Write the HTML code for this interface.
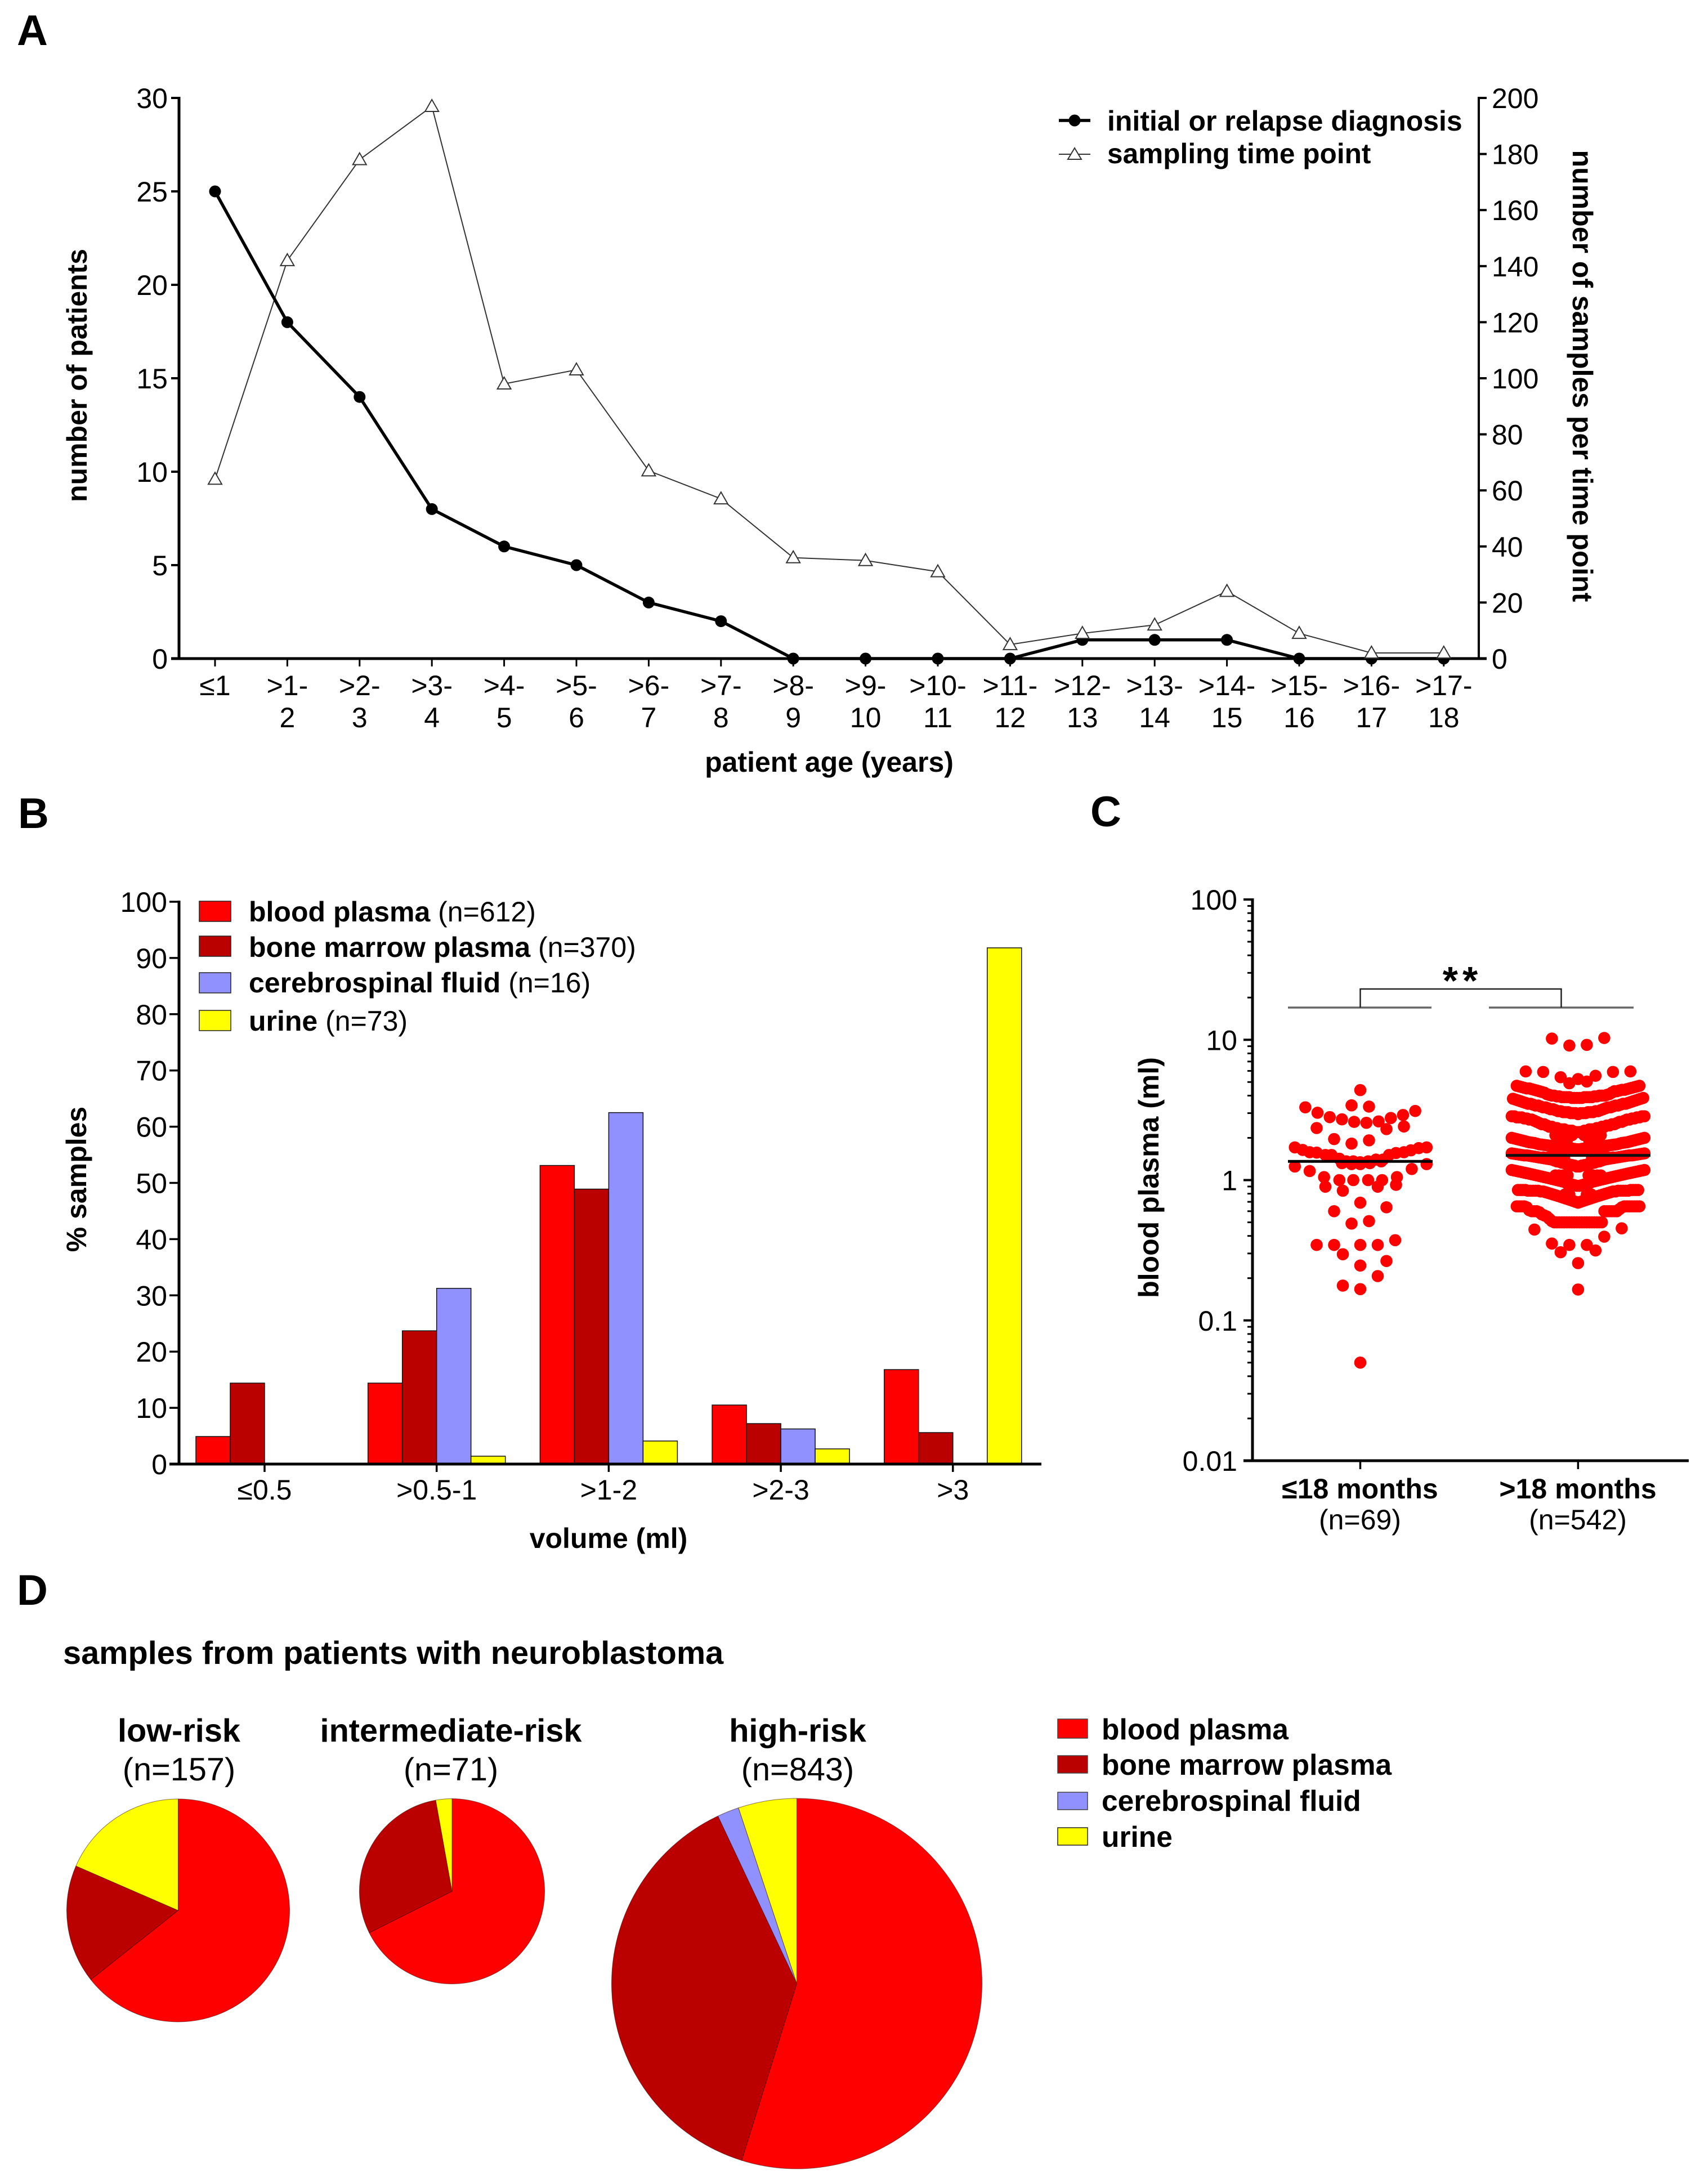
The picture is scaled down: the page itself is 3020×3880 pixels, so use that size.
<!DOCTYPE html>
<html lang="en">
<head>
<meta charset="utf-8">
<title>Sample volumes figure</title>
<style>
html,body{margin:0;padding:0;background:#fff}
svg{display:block}
text{font-family:"Liberation Sans",Arial,sans-serif;fill:#000}
.b{font-weight:700}
.t50{font-size:50px}
.t57{font-size:57.7px}
.letter{font-size:76px;font-weight:700}
</style>
</head>
<body>
<svg id="figure" xmlns="http://www.w3.org/2000/svg" width="3020" height="3880" viewBox="0 0 3020 3880">
<rect x="0" y="0" width="3020" height="3880" fill="#fff"/>

<g id="panelA">
  <text class="letter" x="30" y="80">A</text>
  <text class="b t50" text-anchor="middle" transform="translate(154,667) rotate(-90)">number of patients</text>
  <text class="b t50" text-anchor="middle" transform="translate(2794,668) rotate(90)">number of samples per time point</text>
  <text class="b t50" text-anchor="middle" x="1473" y="1371">patient age (years)</text>
  <line x1="1881" x2="1937" y1="214" y2="214" stroke="#000" stroke-width="5.5"/>
  <circle cx="1909" cy="214" r="10.5" fill="#000"/>
  <text class="b t50" x="1967" y="232">initial or relapse diagnosis</text>
  <line x1="1881" x2="1937" y1="274" y2="274" stroke="#333" stroke-width="2"/>
  <path d="M1909 263L1921 283L1897 283Z" fill="#fff" stroke="#333" stroke-width="2"/>
  <text class="b t50" style="font-size:49.6px" x="1967" y="290">sampling time point</text>
</g>

<g id="panelB">
  <text class="letter" x="32" y="1471">B</text>
  <text class="b t50" text-anchor="middle" transform="translate(153,2095) rotate(-90)">% samples</text>
  <text class="b t50" text-anchor="middle" x="1081" y="2750">volume (ml)</text>
  <rect x="354" y="1601" width="56" height="36" fill="#ff0000" stroke="#222" stroke-width="1.5"/>
  <text class="t50" x="442" y="1637"><tspan class="b">blood plasma</tspan> (n=612)</text>
  <rect x="354" y="1663" width="56" height="36" fill="#bb0000" stroke="#222" stroke-width="1.5"/>
  <text class="t50" x="442" y="1700"><tspan class="b">bone marrow plasma</tspan> (n=370)</text>
  <rect x="354" y="1728" width="56" height="36" fill="#9090ff" stroke="#222" stroke-width="1.5"/>
  <text class="t50" x="442" y="1763"><tspan class="b">cerebrospinal fluid</tspan> (n=16)</text>
  <rect x="354" y="1795" width="56" height="36" fill="#ffff00" stroke="#222" stroke-width="1.5"/>
  <text class="t50" x="442" y="1831"><tspan class="b">urine</tspan> (n=73)</text>
</g>

<g id="panelC">
  <text class="letter" x="1937" y="1468">C</text>
  <text class="b t50" text-anchor="middle" transform="translate(2058,2092) rotate(-90)">blood plasma (ml)</text>
  <text class="b t50" text-anchor="middle" x="2416" y="2662">≤18 months</text>
  <text class="t50" text-anchor="middle" x="2416" y="2717">(n=69)</text>
  <text class="b t50" text-anchor="middle" x="2803" y="2662">&gt;18 months</text>
  <text class="t50" text-anchor="middle" x="2803" y="2717">(n=542)</text>
</g>

<g id="panelD">
  <text class="letter" x="30" y="2851">D</text>
  <text class="b t57" x="112" y="2956">samples from patients with neuroblastoma</text>
  <text class="b t57" text-anchor="middle" x="318" y="3094">low-risk</text>
  <text class="t57" text-anchor="middle" x="318" y="3163">(n=157)</text>
  <text class="b t57" text-anchor="middle" x="801" y="3094">intermediate-risk</text>
  <text class="t57" text-anchor="middle" x="801" y="3163">(n=71)</text>
  <text class="b t57" text-anchor="middle" x="1417" y="3094">high-risk</text>
  <text class="t57" text-anchor="middle" x="1417" y="3163">(n=843)</text>
  <rect x="1879" y="3054" width="53" height="34" fill="#ff0000" stroke="#444" stroke-width="1.5"/>
  <text class="b" style="font-size:51.5px" x="1957" y="3090">blood plasma</text>
  <rect x="1879" y="3119" width="53" height="31" fill="#bb0000" stroke="#444" stroke-width="1.5"/>
  <text class="b" style="font-size:51.5px" x="1957" y="3153">bone marrow plasma</text>
  <rect x="1879" y="3184" width="53" height="31" fill="#9090ff" stroke="#444" stroke-width="1.5"/>
  <text class="b" style="font-size:51.5px" x="1957" y="3217">cerebrospinal fluid</text>
  <rect x="1879" y="3247" width="53" height="31" fill="#ffff00" stroke="#222" stroke-width="1.5"/>
  <text class="b" style="font-size:51.5px" x="1957" y="3281">urine</text>
</g>
</svg>

<script>
/* ---------- Panel A data ---------- */
const ageLabelsTop = ['≤1','>1-','>2-','>3-','>4-','>5-','>6-','>7-','>8-','>9-','>10-','>11-','>12-','>13-','>14-','>15-','>16-','>17-'];
const ageLabelsBottom = ['','2','3','4','5','6','7','8','9','10','11','12','13','14','15','16','17','18'];
const patientCounts = [25,18,14,8,6,5,3,2,0,0,0,0,1,1,1,0,0,0];
const sampleCounts = [64,142,178,197,98,103,67,57,36,35,31,5,9,12,24,9,2,2];
const patientTicks = [0,5,10,15,20,25,30];
const sampleTicks = [0,20,40,60,80,100,120,140,160,180,200];

/* ---------- Panel B data ---------- */
const volumeCategories = ['≤0.5','>0.5-1','>1-2','>2-3','>3'];
const bloodPercent = [4.9,14.4,53.1,10.5,16.8];
const marrowPercent = [14.4,23.7,48.9,7.2,5.6];
const csfPercent = [0,31.25,62.5,6.25,0];
const urinePercent = [0,1.4,4.1,2.7,91.8];
const percentTicks = [0,10,20,30,40,50,60,70,80,90,100];

/* ---------- Panel C data ---------- */
const volumeDecades = [100,10,1,0.1,0.01];
const volumeDecadeLabels = ['100','10','1','0.1','0.01'];
const youngMedian = 1.36;
const oldMedian = 1.5;
const youngValues = [4.38,3.41,3.34,3.3,3.02,2.81,2.71,2.6,2.56,2.62,2.77,2.91,3.11,2.35,2.31,2.41,1.96,1.82,1.92,
 1.71,1.64,1.58,1.57,1.51,1.51,1.42,1.36,1.36,1.34,1.36,1.4,1.4,1.51,1.56,1.58,1.63,1.69,1.71,
 1.32,1.3,1.3,1.32,1.36,1.25,1.16,1.2,1.3,1.05,1,1,1,1,1.05,0.897,0.84,0.897,0.925,
 0.69,0.6,0.64,0.49,0.51,0.345,0.345,0.345,0.345,0.373,0.296,0.246,0.265,0.207,0.177,0.167,0.05];
const youngSwarmSlots = [0,-1,1,-6.3,-4.9,-3.5,-2.1,-0.7,0.7,2.1,3.5,4.9,6.3,-5,3,5,-3,-1,1,
 -7.5,-6.6,-5.8,-5,-4,-3.3,-2.4,-1.6,-0.8,0,0.9,1.8,2.6,3.3,4.1,5,5.8,6.7,7.6,
 -2.1,-1,0,1.1,2.4,-7.5,-5.8,5.9,7.6,-4.15,-2.4,-0.8,0.9,2.5,4.2,-4,-2,2,4.1,
 0,-3,3,-1,1,-5,-3,0,2,4,-2,0,3,2,-2,0,0];
const oldSparseValues = [10.2,9.1,9.2,10.3,5.95,5.9,5.41,4.9,5.25,5.04,5.54,5.9,5.95,0.444,0.453,0.395,0.353,0.306,0.345,0.345,0.315,0.256,0.166,
 2.09,2.09,2.09,2.09,2.09,2.09,2.09,2.09,1.9,1.9,1.9,1.9,1.9,1.9,
 1.45,1.45,1.45,1.45,1.45,1.45,1.45,1.45,1.45,1.45,
 1.08,1.08,1.08,1.08,1.08,1.08,1.08,1.08,0.79,0.79,0.79,0.79];
const oldSparseSlots = [-3,-1,1,3,-6,-4,-2,-1,0,1,2,4,6,-5,5,3,-3,-2,-1,1,2,0,0,
 -2.6,-2.1,-1.4,-0.7,0.7,1.4,2.1,2.6,-2.4,-1.9,-1.3,1.3,1.9,2.4,
 -4,-3.4,-2.8,-2.2,-1.6,1.6,2.2,2.8,3.4,4,
 -2.6,-2.2,-1.7,-1.2,1.2,1.7,2.2,2.6,-1.5,-1,1,1.5];
const oldRow1 = [4.7,4.65,4.6,4.55,4.5,4.5,4.45,4.4,4.35,4.3,4.25,4.2,4.1,4.05,4,4,3.95,3.95,3.9,3.9,3.9,3.9,3.85,3.85,3.85,3.85,3.85,3.9,3.9,3.9,3.9,3.95,3.95,4,4,4,4.05,4.1,4.2,4.3,4.3,4.35,4.4,4.4,4.45,4.5,4.55,4.6,4.65,4.7];
const oldRow2 = [3.8,3.75,3.7,3.65,3.6,3.55,3.5,3.5,3.45,3.4,3.4,3.35,3.3,3.3,3.25,3.2,3.2,3.15,3.1,3.1,3.05,3.05,3.05,3,3,3,2.95,3,3,3,3.05,3.05,3.05,3.1,3.1,3.15,3.2,3.25,3.3,3.3,3.35,3.4,3.4,3.45,3.5,3.5,3.55,3.6,3.65,3.7,3.75,3.8,3.85];
const oldRow3 = [2.85,2.85,2.8,2.8,2.8,2.75,2.75,2.7,2.7,2.65,2.6,2.55,2.5,2.5,2.45,2.4,2.4,2.35,2.35,2.3,2.3,2.3,2.25,2.25,2.25,2.2,2.2,2.2,2.2,2.25,2.25,2.3,2.3,2.3,2.35,2.35,2.4,2.4,2.45,2.45,2.5,2.5,2.55,2.6,2.6,2.65,2.7,2.7,2.75,2.75,2.8,2.8,2.85,2.85];
const oldRow4 = [2,1.98,1.96,1.94,1.92,1.9,1.88,1.86,1.85,1.84,1.82,1.8,1.79,1.78,1.77,1.76,1.75,1.74,1.73,1.72,1.71,1.7,1.7,1.69,1.68,1.67,1.66,1.66,1.67,1.68,1.69,1.7,1.7,1.71,1.72,1.73,1.74,1.75,1.76,1.77,1.78,1.79,1.8,1.82,1.84,1.85,1.86,1.88,1.9,1.92,1.94,1.96,1.98,2];
const oldRow5 = [1.55,1.54,1.53,1.52,1.51,1.5,1.5,1.49,1.48,1.47,1.46,1.45,1.44,1.43,1.42,1.41,1.4,1.38,1.36,1.35,1.33,1.32,1.3,1.29,1.28,1.27,1.25,1.25,1.27,1.28,1.29,1.3,1.32,1.33,1.35,1.36,1.38,1.4,1.41,1.42,1.43,1.44,1.45,1.46,1.47,1.48,1.49,1.5,1.5,1.51,1.52,1.53,1.54,1.55];
const oldRow6 = [1.18,1.17,1.16,1.15,1.14,1.13,1.12,1.11,1.1,1.09,1.08,1.07,1.06,1.05,1.04,1.03,1.02,1.01,1,0.99,0.98,0.97,0.95,0.94,0.93,0.92,0.91,0.91,0.92,0.93,0.94,0.95,0.97,0.98,0.99,1,1.01,1.02,1.03,1.04,1.05,1.06,1.07,1.08,1.09,1.1,1.11,1.12,1.13,1.14,1.15,1.16,1.17,1.18];
const oldRow7 = [0.85,0.85,0.85,0.85,0.84,0.84,0.84,0.84,0.84,0.83,0.83,0.82,0.81,0.8,0.79,0.78,0.77,0.76,0.75,0.74,0.73,0.72,0.71,0.7,0.69,0.7,0.71,0.72,0.73,0.74,0.75,0.76,0.77,0.78,0.79,0.8,0.81,0.82,0.83,0.83,0.84,0.84,0.84,0.84,0.84,0.85,0.85,0.85,0.85];
const oldRow8 = [0.65,0.65,0.65,0.65,0.64,0.61,0.6,0.6,0.6,0.59,0.57,0.56,0.55,0.53,0.51,0.5,0.5,0.5,0.5,0.5,0.5,0.5,0.5,0.5,0.5,0.5,0.5,0.5,0.5,0.5,0.5,0.5,0.5,0.5,0.5,0.6,0.6,0.6,0.6,0.6,0.6,0.62,0.64,0.65,0.65,0.65,0.65,0.65,0.65,0.65];
const oldRows = [oldRow1,oldRow2,oldRow3,oldRow4,oldRow5,oldRow6,oldRow7,oldRow8];

/* ---------- Panel D data ---------- */
const lowRiskCounts = [101,27,0,29];
const intermediateRiskCounts = [48,21,0,2];
const highRiskCounts = [462,322,16,43];
const sampleTypeNames = ['blood-plasma','bone-marrow-plasma','cerebrospinal-fluid','urine'];

/* ---------- helpers ---------- */
const NS = 'http://www.w3.org/2000/svg';
function add(parent, tag, attrs, name) {
  const el = document.createElementNS(NS, tag);
  for (const k in attrs) el.setAttribute(k, attrs[k]);
  
  
  parent.appendChild(el);
  return el;
}
function label(parent, x, y, str, anchor, cls, name) {
  const el = add(parent, 'text', {x: x, y: y, 'text-anchor': anchor, 'class': cls}, name);
  el.textContent = str;
  return el;
}
const AXIS = 5, TEXT = 't50';

/* ---------- Panel A ---------- */
(function () {
  const g = document.getElementById('panelA');
  const xA = i => 382 + i * 128.4;
  const yLeft = v => 1170 - v * (996 / 30);
  const yRight = v => 1170 - v * (996 / 200);
  add(g, 'line', {x1: 318, x2: 318, y1: yLeft(30) - 2, y2: 1172, stroke: '#000', 'stroke-width': AXIS}, 'left-y-axis');
  add(g, 'line', {x1: 2627, x2: 2627, y1: yRight(200) - 2, y2: 1172, stroke: '#000', 'stroke-width': AXIS - 1}, 'right-y-axis');
  add(g, 'line', {x1: 304, x2: 2641, y1: 1170, y2: 1170, stroke: '#000', 'stroke-width': AXIS}, 'x-axis');
  patientTicks.forEach(v => {
    add(g, 'line', {x1: 304, x2: 318, y1: yLeft(v), y2: yLeft(v), stroke: '#000', 'stroke-width': 4}, 'left-y-tick');
    label(g, 298, yLeft(v) + 18, String(v), 'end', TEXT, 'left-y-tick-label');
  });
  sampleTicks.forEach(v => {
    add(g, 'line', {x1: 2627, x2: 2641, y1: yRight(v), y2: yRight(v), stroke: '#000', 'stroke-width': 4}, 'right-y-tick');
    label(g, 2650, yRight(v) + 18, String(v), 'start', TEXT, 'right-y-tick-label');
  });
  ageLabelsTop.forEach((t, i) => {
    add(g, 'line', {x1: xA(i), x2: xA(i), y1: 1170, y2: 1184, stroke: '#000', 'stroke-width': 3}, 'x-tick');
    label(g, xA(i), 1235, t, 'middle', TEXT, 'x-tick-label');
    if (ageLabelsBottom[i]) label(g, xA(i), 1292, ageLabelsBottom[i], 'middle', TEXT, 'x-tick-label');
  });
  add(g, 'polyline', {points: sampleCounts.map((v, i) => xA(i) + ',' + yRight(v)).join(' '), fill: 'none', stroke: '#333', 'stroke-width': 2}, 'sampling-line');
  add(g, 'polyline', {points: patientCounts.map((v, i) => xA(i) + ',' + yLeft(v)).join(' '), fill: 'none', stroke: '#000', 'stroke-width': 5.5}, 'diagnosis-line');
  patientCounts.forEach((v, i) => {
    add(g, 'circle', {cx: xA(i), cy: yLeft(v), r: 10.5, fill: '#000'}, 'diagnosis-point');
  });
  sampleCounts.forEach((v, i) => {
    const x = xA(i), y = yRight(v);
    add(g, 'path', {d: `M${x} ${y - 12}L${x + 12} ${y + 9}L${x - 12} ${y + 9}Z`, fill: '#fff', stroke: '#333', 'stroke-width': 2}, 'sampling-point');
  });
})();

/* ---------- Panel B ---------- */
(function () {
  const g = document.getElementById('panelB');
  const xCat = i => 470 + i * 305.7;
  const yPct = v => 2601 - v * 9.99;
  const barW = 61;
  const series = [
    {vals: bloodPercent, col: '#ff0000', off: -2, name: 'bar-blood-plasma'},
    {vals: marrowPercent, col: '#bb0000', off: -1, name: 'bar-bone-marrow-plasma'},
    {vals: csfPercent, col: '#9090ff', off: 0, name: 'bar-cerebrospinal-fluid'},
    {vals: urinePercent, col: '#ffff00', off: 1, name: 'bar-urine'}
  ];
  series.forEach(s => s.vals.forEach((v, i) => {
    if (v <= 0) return;
    add(g, 'rect', {x: xCat(i) + s.off * barW, y: yPct(v), width: barW, height: 2601 - yPct(v), fill: s.col, stroke: '#111', 'stroke-width': 1.5}, s.name);
  }));
  add(g, 'line', {x1: 318, x2: 318, y1: yPct(100) - 2, y2: 2603, stroke: '#000', 'stroke-width': AXIS}, 'y-axis');
  add(g, 'line', {x1: 301, x2: 1850, y1: 2601, y2: 2601, stroke: '#000', 'stroke-width': AXIS}, 'x-axis');
  percentTicks.forEach(v => {
    add(g, 'line', {x1: 301, x2: 318, y1: yPct(v), y2: yPct(v), stroke: '#000', 'stroke-width': 3.5}, 'y-tick');
    label(g, 297, yPct(v) + 18, String(v), 'end', TEXT, 'y-tick-label');
  });
  volumeCategories.forEach((c, i) => {
    add(g, 'line', {x1: xCat(i), x2: xCat(i), y1: 2601, y2: 2615, stroke: '#000', 'stroke-width': 3.5}, 'x-tick');
    label(g, xCat(i), 2664, c, 'middle', TEXT, 'x-tick-label');
  });
})();

/* ---------- Panel C ---------- */
(function () {
  const g = document.getElementById('panelC');
  const yLog = v => 2096.5 - 249.25 * Math.log10(v);
  const xYoung = 2416.5, xOld = 2803.4, slot = 15.5, pitch = 4.45, dotR = 10.8;
  youngValues.forEach((v, i) => {
    add(g, 'circle', {cx: xYoung + youngSwarmSlots[i] * slot, cy: yLog(v), r: dotR, fill: '#ff0000'}, 'dot-young');
  });
  oldSparseValues.forEach((v, i) => {
    add(g, 'circle', {cx: xOld + oldSparseSlots[i] * slot, cy: yLog(v), r: dotR, fill: '#ff0000'}, 'dot-old');
  });
  oldRows.forEach(row => row.forEach((v, i) => {
    add(g, 'circle', {cx: xOld + (i - (row.length - 1) / 2) * pitch, cy: yLog(v), r: dotR, fill: '#ff0000'}, 'dot-old');
  }));
  add(g, 'line', {x1: 2288, x2: 2545, y1: yLog(youngMedian), y2: yLog(youngMedian), stroke: '#000', 'stroke-width': 5}, 'median-young');
  add(g, 'line', {x1: 2675, x2: 2932, y1: yLog(oldMedian), y2: yLog(oldMedian), stroke: '#111', 'stroke-width': 5}, 'median-old');

  add(g, 'line', {x1: 2225, x2: 2225, y1: yLog(100) - 2, y2: yLog(0.01) + 2, stroke: '#000', 'stroke-width': AXIS}, 'y-axis');
  add(g, 'line', {x1: 2209, x2: 3000, y1: yLog(0.01), y2: yLog(0.01), stroke: '#000', 'stroke-width': AXIS}, 'x-axis');
  volumeDecades.forEach((d, i) => {
    add(g, 'line', {x1: 2209, x2: 2225, y1: yLog(d), y2: yLog(d), stroke: '#000', 'stroke-width': 4}, 'y-major-tick');
    label(g, 2198, yLog(d) + 18, volumeDecadeLabels[i], 'end', TEXT, 'y-tick-label');
    if (d > 0.01) {
      [2, 3, 4, 5, 6, 7, 8, 9].forEach(m => {
        const y = yLog(d / 10 * m);
        add(g, 'line', {x1: 2216, x2: 2225, y1: y, y2: y, stroke: '#000', 'stroke-width': 3}, 'y-minor-tick');
      });
    }
  });
  add(g, 'line', {x1: xYoung, x2: xYoung, y1: 2595, y2: 2610, stroke: '#000', 'stroke-width': 3.5}, 'x-tick');
  add(g, 'line', {x1: xOld, x2: xOld, y1: 2595, y2: 2610, stroke: '#000', 'stroke-width': 3.5}, 'x-tick');

  add(g, 'line', {x1: 2288, x2: 2543, y1: 1790, y2: 1790, stroke: '#666', 'stroke-width': 3.5}, 'bracket-group-young');
  add(g, 'line', {x1: 2645, x2: 2902, y1: 1790, y2: 1790, stroke: '#666', 'stroke-width': 3.5}, 'bracket-group-old');
  add(g, 'path', {d: 'M2416.5 1790V1757H2773.5V1790', fill: 'none', stroke: '#222', 'stroke-width': 2.5}, 'significance-bracket');
  const stars = label(g, 2598, 1766, '**', 'middle', 'b', 'significance-stars');
  stars.setAttribute('style', 'font-size:70px;letter-spacing:8px');
})();

/* ---------- Panel D ---------- */
(function () {
  const g = document.getElementById('panelD');
  const colours = ['#ff0000', '#bb0000', '#9090ff', '#ffff00'];
  function pie(counts, cx, cy, r, name) {
    const total = counts.reduce((a, b) => a + b, 0);
    let acc = 0;
    counts.forEach((c, i) => {
      if (!c) return;
      const a0 = acc / total * 2 * Math.PI;
      acc += c;
      const a1 = acc / total * 2 * Math.PI;
      const p0 = [cx + r * Math.sin(a0), cy - r * Math.cos(a0)];
      const p1 = [cx + r * Math.sin(a1), cy - r * Math.cos(a1)];
      const large = a1 - a0 > Math.PI ? 1 : 0;
      add(g, 'path', {d: `M${cx} ${cy}L${p0[0]} ${p0[1]}A${r} ${r} 0 ${large} 1 ${p1[0]} ${p1[1]}Z`, fill: colours[i], stroke: '#300', 'stroke-width': 1, 'stroke-opacity': 0.55}, name + '-slice-' + sampleTypeNames[i]);
    });
  }
  pie(lowRiskCounts, 316.5, 3394, 198, 'low-risk');
  pie(intermediateRiskCounts, 803, 3360, 164.5, 'intermediate-risk');
  pie(highRiskCounts, 1415.5, 3524, 329, 'high-risk');
})();
</script>
</body>
</html>
